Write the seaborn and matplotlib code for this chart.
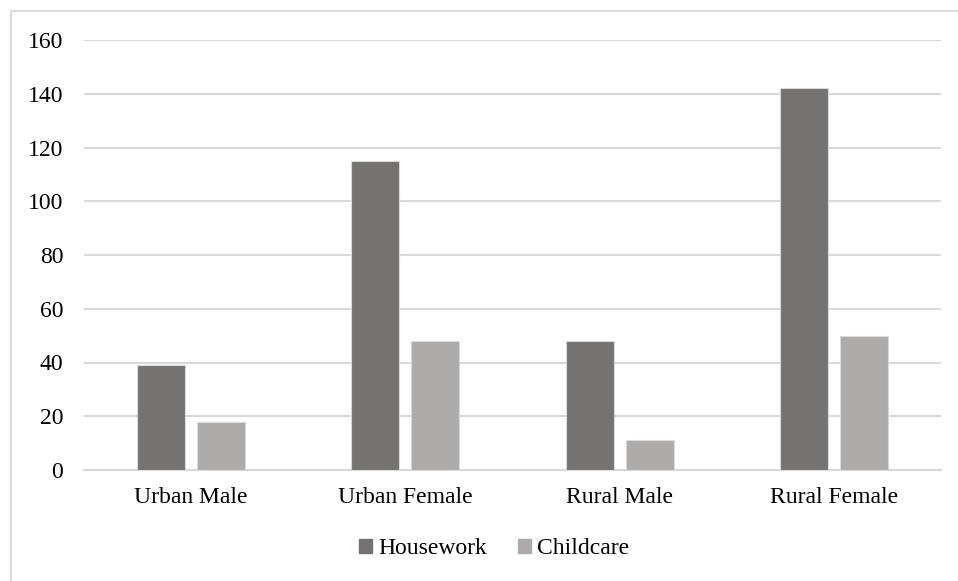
import matplotlib
matplotlib.use("Agg")
import matplotlib.pyplot as plt
import matplotlib.patches as mpatches
import pandas as pd
import seaborn as sns

sns.set_style("white")
plt.rcParams['font.family'] = ['Liberation Serif', 'DejaVu Serif']
plt.rcParams['text.color'] = 'black'
plt.rcParams['xtick.color'] = 'black'
plt.rcParams['ytick.color'] = 'black'

# data
groups = ["Urban Male", "Urban Female", "Rural Male", "Rural Female"]
housework = [39, 115, 48, 142]
childcare = [18, 48, 11, 50]
series = ["Housework", "Childcare"]
colors = ["#767171", "#AEAAAA"]
grid_color = "#d9d9d9"

df = pd.DataFrame({
    "group": groups * 2,
    "activity": [series[0]] * 4 + [series[1]] * 4,
    "minutes": housework + childcare,
})

W, H = 958, 581
fig = plt.figure(figsize=(W / 100, H / 100), dpi=100)
ax = fig.add_axes([84 / W, 1 - 470 / H, (941 - 84) / W, (470 - 40) / H])

sns.barplot(data=df, x="group", y="minutes", hue="activity", order=groups,
            hue_order=series, palette=colors, width=0.561, gap=0.2,
            edgecolor=grid_color, linewidth=0.8, ax=ax, legend=False,
            zorder=3)

ax.set_ylim(0, 160)
ax.set_yticks(range(0, 161, 20))
ax.set_xlim(-0.5, 3.5)
ax.yaxis.grid(True, color=grid_color, linewidth=1.5, zorder=0)
ax.set_axisbelow(True)
for side in ["top", "right", "left"]:
    ax.spines[side].set_visible(False)
ax.spines["bottom"].set_color(grid_color)
ax.spines["bottom"].set_linewidth(1.5)
ax.tick_params(axis="y", length=0, pad=15, labelsize=17, labelcolor="black")
ax.tick_params(axis="x", length=0, pad=12, labelsize=17, labelcolor="black")
ax.set_xlabel("")
ax.set_ylabel("")

handles = [mpatches.Patch(color=c, label=s) for c, s in zip(colors, series)]
fig.legend(handles=handles, loc="center", bbox_to_anchor=(494 / W, 1 - 549 / H),
           ncol=2, frameon=False, fontsize=17, handlelength=0.55,
           handleheight=0.55, handletextpad=0.25, columnspacing=1.3)

# outer chart border (cropped on right and bottom as in the source)
fig.patches.append(mpatches.Rectangle((10.5 / W, -0.1), 2, 1 - 10.5 / H + 0.1,
                                      transform=fig.transFigure, fill=False,
                                      edgecolor=grid_color, linewidth=1.3))

fig.savefig("out.png", dpi=100)
